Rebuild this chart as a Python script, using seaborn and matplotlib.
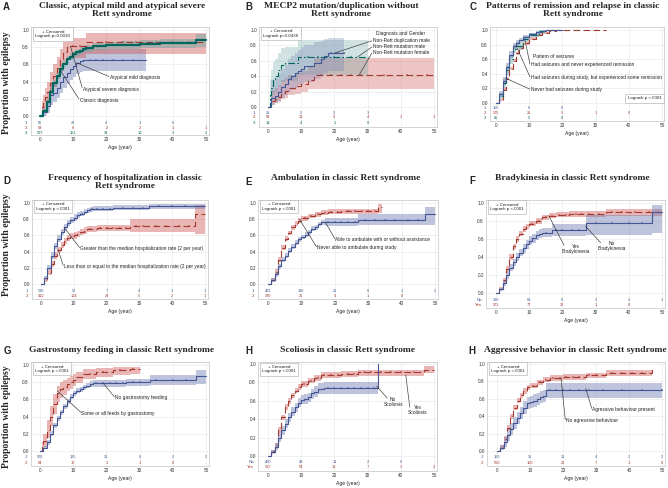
import numpy as np
import matplotlib
matplotlib.use("Agg")
import matplotlib.pyplot as plt
import seaborn as sns

# ---------------- data ----------------
# panel A: classic / atypical mild / atypical severe
A1_t = [0, 1, 2, 3, 4, 5, 6, 7, 8, 9, 10, 11, 12, 13, 32]
A1_p = [0, .05, .12, .24, .27, .33, .40, .45, .50, .55, .58, .62, .64, .65, .65]
A1_lo = [0, 0, .04, .13, .16, .21, .27, .32, .37, .42, .45, .49, .51, .52, .52]
A1_hi = [0, .12, .21, .36, .40, .46, .53, .58, .63, .68, .71, .74, .76, .78, .78]
A1_c = [15, 17, 19, 22, 25, 28]
A2_t = [0, 0.5, 1, 1.5, 2, 3, 4, 5, 6, 7, 8, 14, 50]
A2_p = [0, .10, .15, .22, .28, .38, .47, .56, .66, .74, .81, .86, .86]
A2_lo = [0, .03, .07, .12, .17, .26, .34, .43, .52, .60, .68, .72, .72]
A2_hi = [0, .18, .25, .33, .40, .51, .60, .69, .78, .86, .91, .96, .96]
A2_c = [10, 12, 20, 25, 29, 35, 40, 45]
A3_t = [0, 1, 2, 3, 4, 5, 6, 7, 8, 9, 10, 11, 12, 13, 14, 16, 18, 20, 24, 30, 36, 47, 50]
A3_p = [0, .06, .16, .28, .38, .47, .55, .61, .66, .69, .72, .74, .76, .78, .79, .81, .81, .82, .83, .84, .85, .88, .88]
A3_lo = [0, .04, .13, .24, .34, .43, .51, .57, .62, .65, .68, .70, .72, .74, .75, .77, .77, .78, .78, .79, .79, .80, .80]
A3_hi = [0, .08, .19, .32, .42, .51, .59, .65, .70, .73, .76, .78, .80, .82, .83, .85, .85, .86, .87, .88, .90, .95, .95]
A3_c = [10.5, 12.5, 15, 17, 19, 21, 23, 26, 28, 31, 33, 38, 42, 45]
A_risk = [[55, 23, 4, 1, 0], [68, 8, 2, 2, 1, 1], [507, 151, 38, 10, 3, 2]]

# panel B: MECP2 mutation / duplication
B1_t = [0, 1, 2, 3, 4, 5, 6, 7, 8, 9, 10, 11, 14, 16, 17, 18, 23]
B1_p = [0, .12, .14, .20, .26, .30, .36, .40, .44, .47, .50, .53, .57, .62, .66, .70, .70]
B1_lo = [0, .03, .05, .08, .12, .15, .19, .22, .25, .28, .30, .33, .36, .40, .44, .47, .47]
B1_hi = [0, .35, .38, .44, .50, .55, .62, .66, .70, .74, .78, .80, .84, .86, .88, .90, .90]
B1_c = [19, 21, 23]
B2_t = [0, 1, 2, 3, 4, 5, 6, 8, 10, 12, 14, 50]
B2_p = [0, .08, .11, .13, .18, .21, .25, .27, .30, .35, .42, .42]
B2_lo = [0, .02, .05, .06, .10, .12, .16, .17, .19, .23, .24, .24]
B2_hi = [0, .22, .25, .28, .35, .38, .42, .44, .47, .53, .64, .64]
B2_c = [16, 19, 22, 25, 28, 35, 42, 48]
B3_t = [0, 0.5, 1, 1.5, 2, 3, 4, 5, 9, 30]
B3_p = [0, .15, .25, .35, .40, .48, .55, .57, .65, .65]
B3_lo = [0, .04, .09, .16, .20, .26, .32, .34, .42, .42]
B3_hi = [0, .37, .48, .58, .62, .70, .76, .78, .87, .87]
B3_c = [12, 15, 20, 25]
B_risk = [[25, 5, 3, 3], [63, 16, 5, 4, 1, 1], [18, 4, 1, 0]]

# panel C: remission / relapse
C1_t = [0, 1, 2, 3, 4, 5, 6, 7, 8, 10, 12, 14, 15, 20]
C1_p = [0, .12, .30, .50, .66, .78, .82, .86, .90, .94, .97, .99, 1, 1]
C1_lo = [0, .08, .25, .45, .61, .74, .78, .83, .87, .92, .95, .98, 1, 1]
C1_hi = [0, .16, .35, .55, .71, .82, .86, .89, .93, .96, .99, 1, 1, 1]
C2_t = [0, 1, 2, 3, 4, 5, 6, 7, 8, 10, 12, 14, 16, 18, 33]
C2_p = [0, .04, .18, .33, .47, .58, .68, .76, .82, .88, .93, .96, .99, 1, 1]
C2_lo = [0, .03, .16, .31, .45, .56, .66, .74, .80, .86, .92, .95, .98, 1, 1]
C2_hi = [0, .05, .20, .35, .49, .60, .70, .78, .84, .90, .94, .97, 1, 1, 1]
C3_t = [0, 1, 2, 3, 4, 5, 6, 8, 10, 13, 15, 20]
C3_p = [0, .10, .27, .45, .60, .74, .78, .88, .93, .98, 1, 1]
C3_lo = [0, .06, .21, .39, .54, .69, .73, .84, .90, .96, 1, 1]
C3_hi = [0, .14, .33, .51, .66, .79, .83, .92, .96, 1, 1, 1]
C_risk = [[155, 6, 0], [575, 25, 3, 1, 0], [85, 5, 0]]

# panel D: hospitalization
D1_t = [0, 1, 2, 3, 4, 5, 6, 7, 8, 9, 10, 11, 12, 13, 14, 15, 16, 22, 33, 50]
D1_p = [0, .08, .20, .35, .47, .56, .64, .70, .75, .79, .82, .85, .87, .89, .91, .92, .93, .94, .96, .96]
D1_lo = [0, .06, .17, .31, .43, .52, .60, .66, .71, .75, .78, .81, .84, .86, .88, .89, .90, .91, .93, .93]
D1_hi = [0, .10, .23, .39, .51, .60, .68, .74, .79, .83, .86, .89, .90, .92, .94, .95, .96, .97, .99, .99]
D1_c = [12.5, 15.5, 17, 19, 21, 25, 28, 31, 36, 40, 44]
D2_t = [0, 1, 2, 3, 4, 5, 6, 7, 8, 9, 10, 11, 12, 13, 14, 17, 27, 47, 50]
D2_p = [0, .05, .14, .25, .35, .42, .48, .53, .57, .59, .60, .62, .64, .66, .68, .69, .72, .86, .86]
D2_lo = [0, .03, .11, .21, .31, .38, .44, .49, .53, .55, .56, .58, .60, .62, .64, .65, .64, .62, .62]
D2_hi = [0, .07, .17, .29, .39, .46, .52, .57, .61, .63, .64, .66, .68, .70, .72, .73, .80, .97, .97]
D2_c = [15, 18, 20, 22, 24, 26, 29, 31, 35, 38, 42, 45]
D_risk = [[520, 52, 7, 4, 1, 1], [412, 104, 28, 5, 2, 1]]

# panel E: ambulation
E1_t = [0, 1, 2, 3, 4, 5, 6, 7, 8, 9, 10, 11, 12, 13, 14, 15, 16, 17, 27, 47, 50]
E1_p = [0, .05, .12, .22, .30, .35, .41, .46, .51, .55, .58, .61, .64, .68, .70, .74, .76, .77, .79, .86, .86]
E1_lo = [0, .03, .09, .19, .27, .32, .38, .43, .48, .52, .55, .58, .61, .65, .67, .71, .73, .72, .73, .73, .73]
E1_hi = [0, .07, .15, .25, .33, .38, .44, .49, .54, .58, .61, .64, .67, .71, .73, .77, .79, .82, .86, .95, .95]
E1_c = [18, 20, 22, 24, 26, 29, 32, 35, 38, 42, 45]
E2_t = [0, 1, 2, 3, 4, 5, 6, 7, 8, 9, 10, 12, 14, 16, 18, 22, 33, 34]
E2_p = [0, .05, .15, .30, .45, .56, .63, .70, .75, .78, .81, .84, .86, .88, .89, .90, .95, .95]
E2_lo = [0, .03, .12, .27, .42, .53, .60, .67, .72, .75, .78, .81, .83, .85, .86, .86, .88, .88]
E2_hi = [0, .07, .18, .33, .48, .59, .66, .73, .78, .81, .84, .87, .89, .91, .92, .93, .99, .99]
E2_c = [11, 13, 15, 17, 19, 21, 24, 26, 28, 30, 32]
E_risk = [[431, 116, 21, 6, 1, 2], [320, 26, 4, 1, 0]]

# panel F: bradykinesia
F1_t = [0, 1, 2, 3, 4, 5, 6, 7, 8, 9, 10, 11, 12, 13, 14, 17, 27, 47, 50]
F1_p = [0, .04, .11, .20, .28, .34, .40, .45, .50, .54, .58, .61, .64, .66, .67, .70, .78, .90, .90]
F1_lo = [0, .02, .08, .16, .24, .30, .36, .41, .45, .49, .53, .56, .59, .61, .62, .63, .64, .67, .67]
F1_hi = [0, .06, .14, .24, .32, .38, .44, .49, .55, .59, .63, .66, .69, .71, .72, .77, .87, .98, .98]
F1_c = [15, 18, 20, 23, 25, 30, 35, 40, 44]
F2_t = [0, 1, 2, 3, 4, 5, 6, 7, 8, 9, 10, 12, 14, 16, 18, 22, 33, 50]
F2_p = [0, .05, .14, .27, .40, .52, .60, .66, .71, .74, .77, .80, .84, .86, .87, .88, .90, .90]
F2_lo = [0, .03, .11, .24, .37, .49, .57, .63, .68, .71, .74, .77, .81, .83, .84, .85, .86, .86]
F2_hi = [0, .07, .17, .30, .43, .55, .63, .69, .74, .77, .80, .83, .87, .89, .90, .91, .93, .93]
F2_c = [11, 13, 15, 17, 19, 21, 24, 26, 28, 31, 35, 38, 42, 46]
F_risk = [[300, 68, 8, 2, 2, 1], [571, 77, 22, 1, 0]]

# panel G: gastrostomy
G1_t = [0, 1, 2, 3, 4, 5, 6, 7, 8, 9, 10, 11, 12, 13, 14, 15, 16, 26, 33, 47, 50]
G1_p = [0, .04, .10, .20, .30, .38, .45, .52, .58, .63, .67, .70, .72, .74, .76, .78, .79, .80, .83, .87, .87]
G1_lo = [0, .02, .07, .17, .27, .35, .42, .49, .55, .60, .64, .67, .69, .71, .73, .75, .75, .76, .77, .78, .78]
G1_hi = [0, .06, .13, .23, .33, .41, .48, .55, .61, .66, .70, .73, .75, .77, .79, .81, .82, .84, .88, .94, .94]
G1_c = [17, 19, 21, 23, 25, 28, 30, 35, 40, 44]
G2_t = [0, 0.5, 1, 2, 3, 4, 5, 6, 7, 8, 9, 10, 11, 13, 17, 22, 27, 30]
G2_p = [0, .05, .12, .25, .40, .55, .68, .72, .74, .78, .80, .83, .86, .90, .92, .94, .95, .95]
G2_lo = [0, .01, .05, .15, .29, .43, .57, .62, .65, .70, .72, .76, .79, .84, .86, .88, .89, .89]
G2_hi = [0, .10, .20, .36, .52, .66, .76, .80, .82, .85, .87, .89, .92, .95, .96, .98, .98, .98]
G2_c = [15, 19, 24, 28]
G_risk = [[500, 125, 21, 6, 2, 2], [84, 17, 1, 1, 0]]

# panel H: scoliosis
H1_t = [0, 1, 2, 3, 4, 5, 6, 7, 8, 9, 10, 11, 12, 13, 14, 15, 17, 33]
H1_p = [0, .04, .10, .20, .28, .35, .42, .48, .53, .58, .61, .62, .64, .68, .70, .73, .74, 1.0]
H1_lo = [0, .02, .06, .15, .23, .30, .37, .43, .48, .53, .56, .57, .59, .62, .64, .67, .67, .67]
H1_hi = [0, .06, .14, .25, .33, .40, .47, .53, .58, .63, .66, .67, .69, .73, .76, .79, .80, .80]
H1_c = [18, 20, 22, 24, 26, 28, 30, 32]
H2_t = [0, 1, 2, 3, 4, 5, 6, 7, 8, 9, 10, 12, 14, 16, 22, 27, 47, 50]
H2_p = [0, .05, .12, .28, .42, .53, .60, .66, .71, .75, .78, .82, .85, .88, .89, .91, .94, .94]
H2_lo = [0, .03, .10, .25, .39, .50, .57, .63, .68, .72, .75, .79, .82, .85, .86, .87, .90, .90]
H2_hi = [0, .07, .14, .31, .45, .56, .63, .69, .74, .78, .81, .85, .88, .91, .92, .94, .98, .98]
H2_c = [11, 13, 15, 17, 19, 21, 24, 26, 29, 31, 34, 37, 40, 44]
H_risk = [[400, 49, 11, 2, 0], [317, 94, 16, 7, 3, 2]]

# panel H (right): aggressive behaviour
I1_t = [0, 1, 2, 3, 4, 5, 6, 7, 8, 9, 10, 11, 12, 13, 14, 15, 50]
I1_p = [0, .03, .10, .18, .25, .32, .38, .44, .50, .55, .56, .58, .60, .62, .63, .70, .70]
I1_lo = [0, .01, .05, .12, .18, .25, .31, .37, .43, .48, .49, .51, .53, .55, .56, .61, .61]
I1_hi = [0, .07, .16, .25, .32, .39, .45, .51, .57, .62, .63, .65, .67, .69, .70, .78, .78]
I1_c = [16, 18, 20, 22, 25, 28, 32, 38, 44, 50]
I2_t = [0, 1, 2, 3, 4, 5, 6, 7, 8, 9, 10, 12, 14, 16, 20, 27, 33, 47]
I2_p = [0, .05, .14, .27, .40, .50, .58, .64, .69, .73, .75, .79, .82, .84, .85, .87, .90, .97]
I2_lo = [0, .03, .11, .24, .37, .47, .55, .61, .66, .70, .72, .76, .79, .81, .82, .84, .86, .86]
I2_hi = [0, .07, .17, .30, .43, .53, .61, .67, .72, .76, .78, .82, .85, .87, .88, .90, .93, .93]
I2_c = [11, 13, 15, 17, 19, 21, 23, 25, 28, 30, 35, 38, 41, 44]
I_risk = [[150, 35, 11, 4, 2, 2], [566, 150, 21, 7, 1, 0]]

# ---------------- styling ----------------
W, H = 668, 488
BLUE, RED, GREEN = "#445694", "#A23A2E", "#01665E"
BLUE_F, RED_F, GREEN_F = "#6F7EB3", "#D05B5B", "#66A5A0"
SOLID, DASH, DASHDOT = "-", (0, (6, 3)), (0, (6, 2, 1.5, 2))
SERIF = "Liberation Serif"
SANS = "Liberation Sans"
NOTE_FS = 3.5

sns.set_theme(style="whitegrid")
plt.rcParams["font.family"] = [SANS, "DejaVu Sans"]
plt.rcParams["axes.edgecolor"] = "#c4c4c4"
plt.rcParams["axes.linewidth"] = 0.5
plt.rcParams["grid.color"] = "#e6e6e6"
plt.rcParams["grid.linewidth"] = 0.4

fig = plt.figure(figsize=(W / 100, H / 100), dpi=100)
fig.patch.set_facecolor("white")


def px(x, y):
    return x / W, 1 - y / H


def make_ax(box, y1, y0, xlim=(-2.7, 50.9)):
    L, T, R, B = box
    ax = fig.add_axes([L / W, 1 - B / H, (R - L) / W, (B - T) / H])
    s = y0 - y1
    ax.set_ylim(-(B - y0) / s, 1 + (y1 - T) / s)
    ax.set_xlim(*xlim)
    ax.set_xticks([0, 10, 20, 30, 40, 50])
    ax.set_yticks([0, .2, .4, .6, .8, 1.0])
    ax.set_yticklabels(["0.0", "0.2", "0.4", "0.6", "0.8", "1.0"])
    ax.tick_params(labelsize=3.4, pad=1.5, length=0, colors="#333333")
    ax.set_xlabel("Age (year)", fontsize=3.6, labelpad=2, color="#222222")
    ax.set_ylabel("")
    ax.grid(True)
    ax._s = s
    ax._y0 = y0
    return ax


def curve(ax, t, p, lo, hi, cens, lc, fc, ls, lw=0.8, alpha=0.45):
    ax.fill_between(t, lo, hi, step="post", color=fc, alpha=alpha, lw=0)
    sns.lineplot(x=t, y=p, ax=ax, color=lc, lw=lw, linestyle=ls,
                 drawstyle="steps-post", estimator=None)
    if cens:
        t_arr = np.array(t)
        cy = [p[np.searchsorted(t_arr, c, side="right") - 1] for c in cens]
        sns.scatterplot(x=cens, y=cy, ax=ax, marker="+", color=lc, s=2.5,
                        linewidth=0.35)


def risk(ax, rows, ys, labels, colors):
    for row, Y, lab, col in zip(rows, ys, labels, colors):
        yy = (ax._y0 - Y) / ax._s
        for i, n in enumerate(row):
            ax.text(i * 10, yy, str(n), fontsize=2.8, color=col,
                    ha="center", va="center")
        ax.text(-0.02, yy, lab, fontsize=3.2, color=col, ha="right",
                va="center", transform=ax.get_yaxis_transform())


def legend_box(ax, txt, x=0.025, y=0.975, ha="left", va="top"):
    ax.text(x, y, txt, transform=ax.transAxes, fontsize=3.2, ha=ha, va=va,
            multialignment="center", color="#222222",
            bbox=dict(boxstyle="square,pad=0.5", fc="white", ec="#aaaaaa",
                      lw=0.4))


def notes(ax, items):
    for lab, tx, ty, ha, x1, y1, x2, y2 in items:
        ax.plot([x1, x2], [y1, y2], color="#333333", lw=0.45)
        ax.text(tx, ty, lab, fontsize=NOTE_FS, ha=ha, va="center",
                color="#222222", multialignment="center", linespacing=1.1)


def title(cx, cy, txt, letter, lx, ly):
    fig.text(*px(cx, cy), txt, family=SERIF, weight="bold", fontsize=6.8,
             ha="center", va="center", linespacing=1.0)
    fig.text(*px(lx, ly), letter, family=SANS, weight="bold", fontsize=7,
             ha="center", va="center")


# ---------------- panel A ----------------
ax = make_ax((31, 27, 209, 135), 30, 116)
curve(ax, A1_t, A1_p, A1_lo, A1_hi, A1_c, BLUE, BLUE_F, SOLID)
curve(ax, A2_t, A2_p, A2_lo, A2_hi, A2_c, RED, RED_F, DASH)
curve(ax, A3_t, A3_p, A3_lo, A3_hi, A3_c, GREEN, GREEN_F, SOLID, lw=1.6)
risk(ax, A_risk, [123, 128, 133], ["1", "2", "3"], [BLUE, RED, GREEN])
legend_box(ax, "+ Censored\nLogrank p=0.0010")
notes(ax, [("Atypical mild diagnosis", 21, 0.45, "left", 11, 0.62, 20.7, 0.46),
           ("Atypical severe diagnosis", 13, 0.31, "left", 9.2, 0.81, 12.7, 0.33),
           ("Classic diagnosis", 12, 0.18, "left", 6, 0.54, 11.7, 0.20)])
title(122, 10, "Classic, atypical mild and atypical severe\nRett syndrome", "A", 6, 7)

# ---------------- panel B ----------------
ax = make_ax((259, 27, 437, 127), 30, 107)
curve(ax, B2_t, B2_p, B2_lo, B2_hi, B2_c, RED, RED_F, DASH, alpha=0.35)
curve(ax, B3_t, B3_p, B3_lo, B3_hi, B3_c, GREEN, GREEN_F, DASHDOT, alpha=0.3)
curve(ax, B1_t, B1_p, B1_lo, B1_hi, B1_c, BLUE, BLUE_F, SOLID, alpha=0.3)
risk(ax, B_risk, [113, 117.5, 123], ["1", "2", "3"], [BLUE, RED, GREEN])
legend_box(ax, "+ Censored\nLogrank p=0.0438")
ax.text(32.5, 0.95, "Diagnosis and Gender", fontsize=NOTE_FS, ha="left",
        va="center", color="#222222")
notes(ax, [("Non-Rett duplication male", 31.5, 0.87, "left", 20, 0.70, 31.3, 0.86),
           ("Non-Rett mutation male", 31.5, 0.79, "left", 27, 0.65, 31.3, 0.78),
           ("Non-Rett mutation female", 31.5, 0.71, "left", 27.5, 0.42, 31.3, 0.70)])
title(341, 10, "MECP2 mutation/duplication without\nRett syndrome", "B", 249, 7)

# ---------------- panel C ----------------
ax = make_ax((490, 27, 664, 121), 30, 103, xlim=(-1.8, 50.6))
curve(ax, C2_t, C2_p, C2_lo, C2_hi, None, RED, RED_F, DASH)
curve(ax, C3_t, C3_p, C3_lo, C3_hi, None, GREEN, GREEN_F, DASHDOT)
curve(ax, C1_t, C1_p, C1_lo, C1_hi, None, BLUE, BLUE_F, SOLID)
risk(ax, C_risk, [108, 113, 118], ["1", "2", "3"], [BLUE, RED, GREEN])
legend_box(ax, "Logrank p <.0001", x=0.985, y=0.24, ha="right", va="center")
ax.text(11.2, 0.64, "Pattern of seizures", fontsize=NOTE_FS, ha="left",
        va="center", color="#222222")
notes(ax, [("Had seizures and never experienced remission", 10.5, 0.53, "left", 8.7, 0.87, 10.2, 0.54),
           ("Had seizures during study, but experienced some remission", 10.5, 0.35, "left", 6.1, 0.78, 10.2, 0.36),
           ("Never had seizures during study", 10.5, 0.18, "left", 2.9, 0.34, 10.2, 0.19)])
title(573, 10, "Patterns of remission and relapse in classic\nRett syndrome", "C", 473, 7)

# ---------------- panel D ----------------
ax = make_ax((32, 200, 208, 299), 203, 284)
curve(ax, D2_t, D2_p, D2_lo, D2_hi, D2_c, RED, RED_F, DASH)
curve(ax, D1_t, D1_p, D1_lo, D1_hi, D1_c, BLUE, BLUE_F, SOLID)
risk(ax, D_risk, [291, 296], ["1", "2"], [BLUE, RED])
legend_box(ax, "+ Censored\nLogrank p <.0001")
notes(ax, [("Greater than the median hospitalization rate (2 per year)", 12, 0.44, "left", 7, 0.70, 11.8, 0.45),
           ("Less than or equal to the median hospitalization rate (2 per year)", 7, 0.22, "left", 5.2, 0.43, 6.8, 0.23)])
title(125, 182, "Frequency of hospitalization in classic\nRett syndrome", "D", 7, 181)

# ---------------- panel E ----------------
ax = make_ax((258, 200, 438, 299), 203, 284, xlim=(-3.0, 50.9))
curve(ax, E2_t, E2_p, E2_lo, E2_hi, E2_c, RED, RED_F, DASH)
curve(ax, E1_t, E1_p, E1_lo, E1_hi, E1_c, BLUE, BLUE_F, SOLID)
risk(ax, E_risk, [291, 296], ["1", "2"], [BLUE, RED])
legend_box(ax, "+ Censored\nLogrank p <.0001")
notes(ax, [("Able to ambulate with or without assistance", 20.2, 0.55, "left", 17.2, 0.76, 20, 0.56),
           ("Never able to ambulate during study", 14.7, 0.45, "left", 9.4, 0.80, 14.5, 0.46)])
title(346, 178, "Ambulation in classic Rett syndrome", "E", 249, 182)

# ---------------- panel F ----------------
ax = make_ax((486, 200, 665, 308), 203, 293, xlim=(-3.0, 50.9))
curve(ax, F2_t, F2_p, F2_lo, F2_hi, F2_c, RED, RED_F, DASH)
curve(ax, F1_t, F1_p, F1_lo, F1_hi, F1_c, BLUE, BLUE_F, SOLID)
risk(ax, F_risk, [300, 305], ["No", "Yes"], [BLUE, RED])
legend_box(ax, "+ Censored\nLogrank p <.0001")
notes(ax, [("Yes\nBradykinesia", 24, 0.49, "center", 15.9, 0.86, 20.5, 0.53),
           ("No\nBradykinesia", 35, 0.52, "center", 27, 0.74, 31.5, 0.56)])
title(572, 178, "Bradykinesia in classic Rett syndrome", "F", 472, 181)

# ---------------- panel G ----------------
ax = make_ax((31, 362, 209, 466), 365, 451)
curve(ax, G2_t, G2_p, G2_lo, G2_hi, G2_c, RED, RED_F, DASH)
curve(ax, G1_t, G1_p, G1_lo, G1_hi, G1_c, BLUE, BLUE_F, SOLID)
risk(ax, G_risk, [457, 463], ["1", "2"], [BLUE, RED])
legend_box(ax, "+ Censored\nLogrank p <.0001")
notes(ax, [("No gastrostomy feeding", 22.6, 0.62, "left", 19, 0.79, 22.4, 0.63),
           ("Some or all feeds by gastrostomy", 12.5, 0.44, "left", 5.2, 0.70, 12.3, 0.45)])
title(122, 350, "Gastrostomy feeding in classic Rett syndrome", "G", 7, 351)

# ---------------- panel H (scoliosis) ----------------
ax = make_ax((258, 362, 437, 471), 364, 456, xlim=(-3.0, 50.9))
curve(ax, H2_t, H2_p, H2_lo, H2_hi, H2_c, RED, RED_F, DASH)
curve(ax, H1_t, H1_p, H1_lo, H1_hi, H1_c, BLUE, BLUE_F, SOLID)
risk(ax, H_risk, [462, 467], ["No", "Yes"], [BLUE, RED])
legend_box(ax, "+ Censored\nLogrank p <.0001")
notes(ax, [("No\nScoliosis", 37.7, 0.59, "center", 32.7, 0.76, 35.9, 0.63),
           ("Yes\nScoliosis", 45.2, 0.50, "center", 41.5, 0.88, 42.7, 0.53)])
title(347, 350, "Scoliosis in classic Rett syndrome", "H", 249, 351)

# ---------------- panel H (aggressive) ----------------
ax = make_ax((487, 362, 665, 466), 364, 451, xlim=(-3.0, 50.9))
curve(ax, I2_t, I2_p, I2_lo, I2_hi, I2_c, RED, RED_F, DASH)
curve(ax, I1_t, I1_p, I1_lo, I1_hi, I1_c, BLUE, BLUE_F, SOLID)
risk(ax, I_risk, [457, 463], ["1", "2"], [BLUE, RED])
legend_box(ax, "+ Censored\nLogrank p <.0001")
notes(ax, [("Agressive behaviour present", 28.9, 0.48, "left", 26.9, 0.72, 28.7, 0.49),
           ("No agressive behaviour", 20.9, 0.35, "left", 19.4, 0.84, 20.7, 0.36)])
title(575, 350, "Aggressive behavior in classic Rett syndrome", "H", 472, 351)

# shared y labels for the left column
for yc in [83, 245, 417]:
    fig.text(*px(7, yc), "Proportion with epilepsy", family=SERIF,
             weight="bold", fontsize=7, rotation=90, ha="center", va="center")

fig.savefig("out.png", dpi=100, facecolor="white")
